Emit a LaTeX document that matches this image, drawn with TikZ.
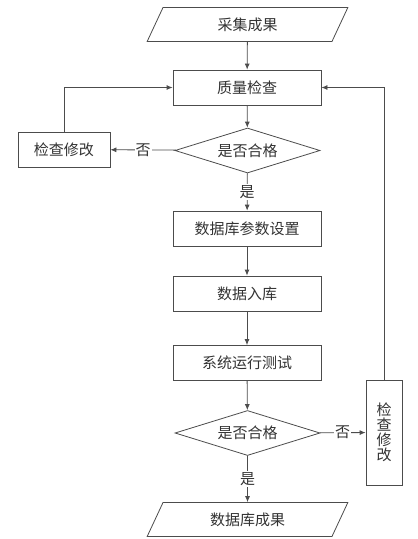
\documentclass[tikz,border=0pt]{standalone}
\usepackage{fontspec}
\setmainfont{Noto Sans CJK SC}
\usetikzlibrary{shapes.geometric,arrows.meta}
\tikzset{
  every box/.style = {draw=black!70, line width=0.8pt, fill=white, text=black!80, font=\fontsize{15}{15}\selectfont},
  stepbox/.style = {every box, rectangle, minimum width=148pt, minimum height=35pt, inner sep=0pt},
  datebox/.style = {every box, trapezium, trapezium left angle=65, trapezium right angle=115,
                    text width=165pt, align=center, inner xsep=2pt, inner ysep=10pt},
  testbox/.style = {every box, diamond, aspect=3.2, minimum width=145pt, minimum height=45pt, inner sep=0pt},
  flow/.style = {draw=black!70, line width=0.8pt, -{Latex[length=6pt,width=5pt]}},
  yesno/.style = {fill=white, text=black!80, inner sep=1pt, font=\fontsize{15}{15}\selectfont}
}

\begin{document}
\begin{tikzpicture}[x=1pt,y=-1pt]

  \useasboundingbox (0,0) rectangle (418,539);

  \node[datebox] (input) at (247.5,24.5) {采集成果};
  \node[stepbox] (check) at (247,87.5) {质量检查};
  \node[testbox] (pass1) at (247.5,150.5) {是否合格};
  \node[stepbox, minimum width=92pt] (fix1) at (64,149.5) {检查修改};
  \node[stepbox] (param) at (247,228.5) {数据库参数设置};
  \node[stepbox] (load) at (247,293.5) {数据入库};
  \node[stepbox] (test) at (247,363) {系统运行测试};
  \node[testbox] (pass2) at (247.5,433) {是否合格};
  \node[stepbox, minimum width=36pt, minimum height=105pt, align=center] (fix2) at (384,432.5) {检\\查\\修\\改};
  \node[datebox] (output) at (247.5,519.5) {数据库成果};

  \draw[flow] (input) -- (check);
  \draw[flow] (check) -- (pass1);
  \draw[flow] (pass1) -- node[yesno] {否} (fix1);
  \draw[flow] (fix1.north) |- (check.west);
  \draw[flow] (pass1) -- node[yesno] {是} (param);
  \draw[flow] (param) -- (load);
  \draw[flow] (load) -- (test);
  \draw[flow] (test) -- (pass2);
  \draw[flow] (pass2) -- node[yesno] {否} (fix2);
  \draw[flow] (fix2.north) |- (check.east);
  \draw[flow] (pass2) -- node[yesno] {是} (output);

\end{tikzpicture}
\end{document}
